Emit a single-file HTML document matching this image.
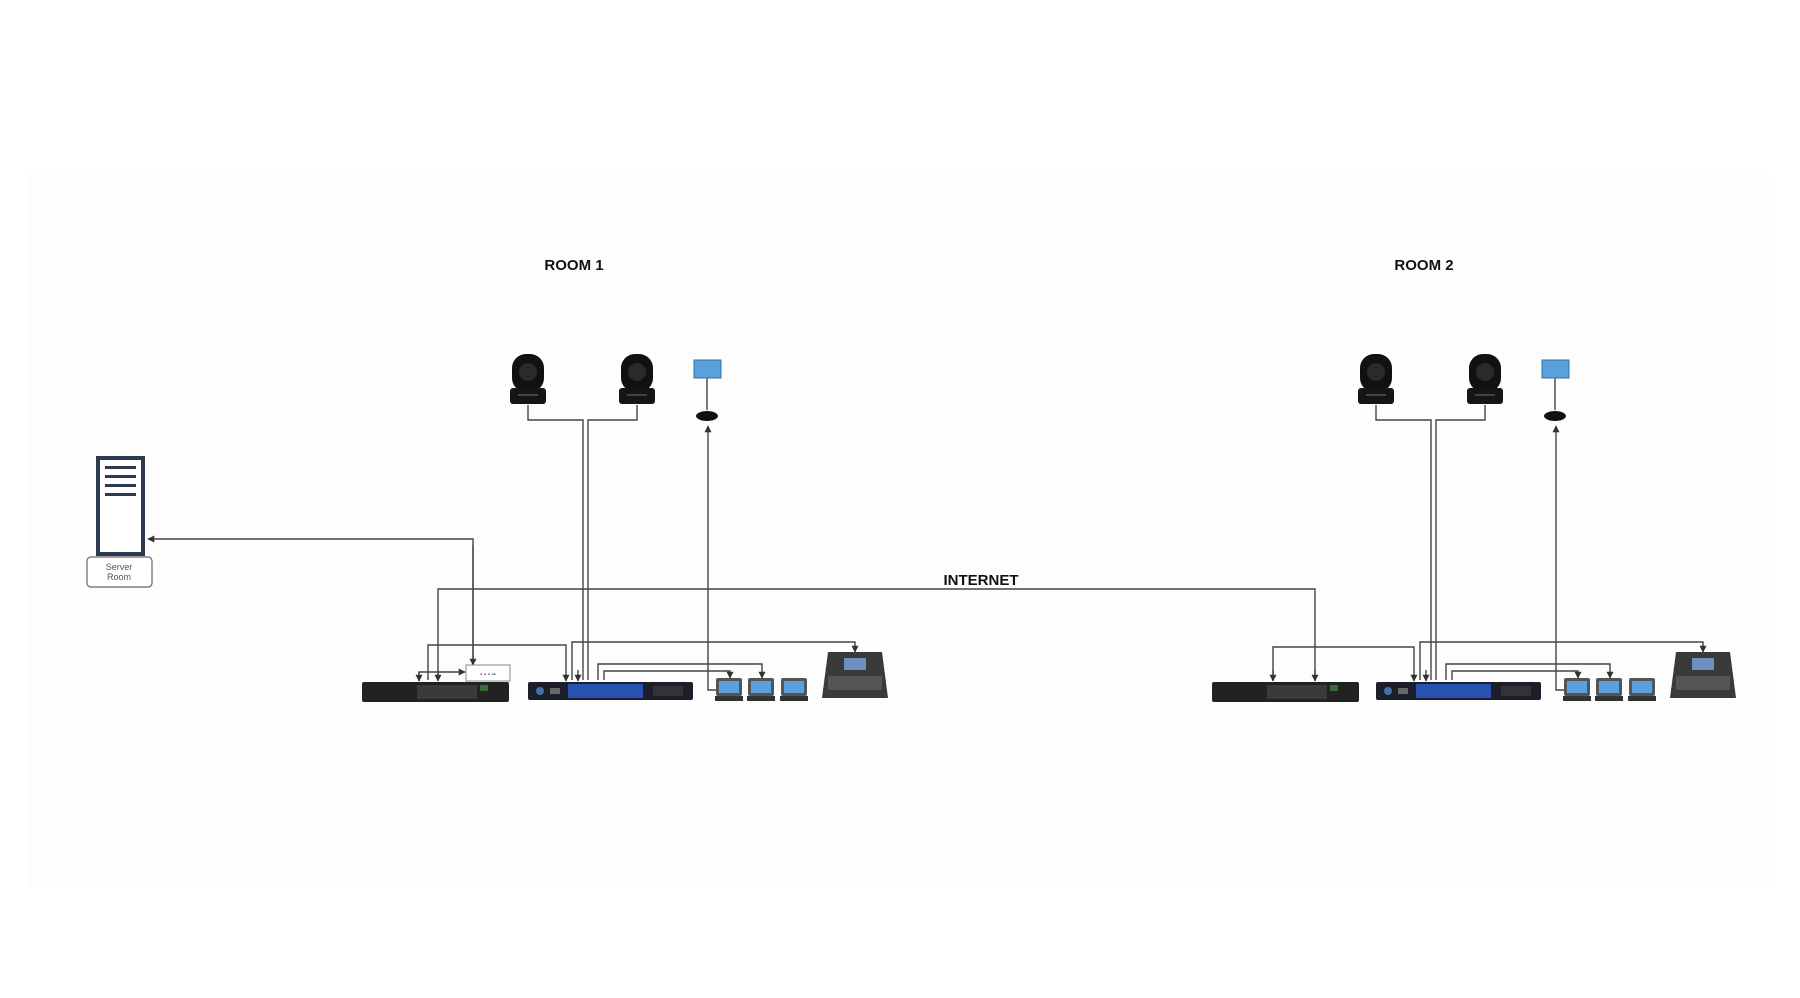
<!DOCTYPE html>
<html><head><meta charset="utf-8"><style>
html,body{margin:0;padding:0;background:#fff;}
svg{display:block;}
text{font-family:"Liberation Sans",Arial,sans-serif;}
</style></head><body>
<svg width="1800" height="998" viewBox="0 0 1800 998" xmlns="http://www.w3.org/2000/svg">
<defs>
<marker id="a" viewBox="0 0 10 10" refX="9" refY="5" markerWidth="5" markerHeight="5" orient="auto"><path d="M0,0 L10,5 L0,10 z" fill="#333"/></marker>
<g id="cam">
  <rect x="-16" y="0" width="32" height="38" rx="14" fill="#111"/>
  <circle cx="0" cy="18" r="9" fill="#2a2a2a"/>
  <rect x="-18" y="34" width="36" height="16" rx="3" fill="#151515"/>
  <rect x="-10" y="40" width="20" height="2" fill="#444"/>
</g>
<g id="lap">
  <rect x="0" y="0" width="26" height="18" rx="2" fill="#555"/>
  <rect x="3" y="3" width="20" height="12" fill="#5aa0dc"/>
  <rect x="-1" y="18" width="28" height="5" fill="#333"/>
</g>
<g id="blue">
  <rect x="0" y="0" width="165" height="18" rx="2" fill="#1a1f2a"/>
  <circle cx="12" cy="9" r="4" fill="#4a6fb0"/>
  <rect x="22" y="6" width="10" height="6" fill="#666"/>
  <rect x="40" y="2" width="75" height="14" fill="#2752b0"/>
  <rect x="125" y="4" width="30" height="10" fill="#333"/>
</g>
<g id="black">
  <rect x="0" y="0" width="147" height="20" rx="2" fill="#222"/>
  <rect x="55" y="3" width="60" height="14" fill="#3a3a3a"/>
  <rect x="118" y="3" width="8" height="6" fill="#3a6a3a"/>
</g>
<g id="mix">
  <path d="M6,0 L60,0 L66,46 L0,46 Z" fill="#3a3a3a"/>
  <rect x="22" y="6" width="22" height="12" fill="#6f8fbf"/>
  <rect x="6" y="24" width="54" height="14" fill="#555"/>
</g>
</defs>
<rect x="0" y="0" width="1800" height="998" fill="#fff"/>
<rect x="29" y="173" width="1740" height="715" fill="#fdfdfd"/>

<text x="574" y="270" font-size="15" font-weight="bold" text-anchor="middle" fill="#111">ROOM 1</text>
<text x="1424" y="270" font-size="15" font-weight="bold" text-anchor="middle" fill="#111">ROOM 2</text>
<text x="981" y="585" font-size="15" font-weight="bold" text-anchor="middle" fill="#111">INTERNET</text>

<!-- server -->
<rect x="98" y="458" width="45" height="96" fill="#fff" stroke="#2b3a4f" stroke-width="4"/>
<rect x="105" y="466" width="31" height="3" fill="#2b3a4f"/>
<rect x="105" y="475" width="31" height="3" fill="#2b3a4f"/>
<rect x="105" y="484" width="31" height="3" fill="#2b3a4f"/>
<rect x="105" y="493" width="31" height="3" fill="#2b3a4f"/>
<rect x="87" y="557" width="65" height="30" rx="4" fill="#fff" stroke="#666" stroke-width="1.2"/>
<text x="119" y="570" font-size="9" text-anchor="middle" fill="#555">Server</text>
<text x="119" y="580" font-size="9" text-anchor="middle" fill="#555">Room</text>

<g fill="none" stroke="#444" stroke-width="1.4">
<path d="M473,664 L473,539 L148,539" marker-end="url(#a)"/>
<path d="M473,545 L473,665" marker-end="url(#a)"/>
<path d="M438,680 L438,589 L1315,589 L1315,680"/>
<path d="M438,670 L438,681" marker-end="url(#a)"/>
<path d="M1315,670 L1315,681" marker-end="url(#a)"/>
</g>

<g id="room">
<g fill="none" stroke="#444" stroke-width="1.4">
  <path d="M528,405 L528,420 L583,420 L583,680"/>
  <path d="M637,405 L637,420 L588,420 L588,680"/>
  <path d="M707,378 L707,410"/>
  <path d="M717,690 L708,690 L708,426" marker-end="url(#a)"/>
  <path d="M572,680 L572,642 L855,642 L855,652" marker-end="url(#a)"/>
  <path d="M598,680 L598,664 L762,664 L762,678" marker-end="url(#a)"/>
  <path d="M604,680 L604,671 L730,671 L730,678" marker-end="url(#a)"/>
  <path d="M578,670 L578,681" marker-end="url(#a)"/>
</g>
<use href="#cam" x="528" y="354"/>
<use href="#cam" x="637" y="354"/>
<rect x="694" y="360" width="27" height="18" fill="#5aa0dc" stroke="#3a70a0"/>
<ellipse cx="707" cy="416" rx="11" ry="5" fill="#111"/>
<use href="#blue" x="528" y="682"/>
<use href="#lap" x="716" y="678"/>
<use href="#lap" x="748" y="678"/>
<use href="#lap" x="781" y="678"/>
<use href="#mix" x="822" y="652"/>
</g>
<use href="#room" x="848" y="0"/>

<g fill="none" stroke="#444" stroke-width="1.4">
  <path d="M428,680 L428,645 L566,645 L566,681" marker-end="url(#a)"/>
  <path d="M419,681 L419,672 L465,672" marker-end="url(#a)"/>
  <path d="M419,672 L419,681" marker-end="url(#a)"/>
  <path d="M1273,680 L1273,647 L1414,647 L1414,681" marker-end="url(#a)"/>
  <path d="M1273,670 L1273,681" marker-end="url(#a)"/>
</g>
<use href="#black" x="362" y="682"/>
<rect x="466" y="665" width="44" height="16" fill="#fff" stroke="#888"/>
<text x="488" y="676" font-size="6" text-anchor="middle" fill="#666">▪ ▪ ▪ ▪▪</text>
<use href="#black" x="1212" y="682"/>
</svg>
</body></html>
